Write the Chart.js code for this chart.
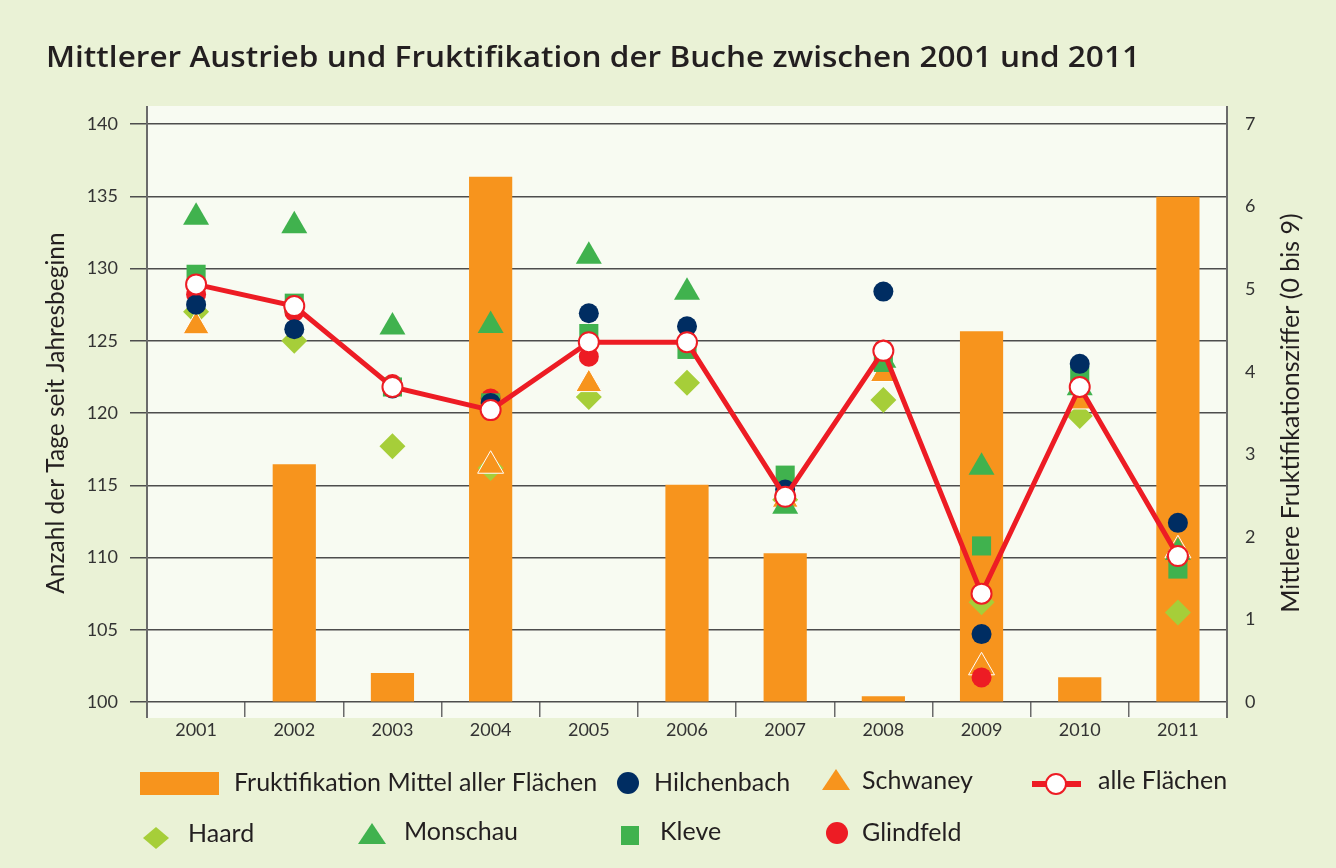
<!DOCTYPE html>
<html>
<head>
<meta charset="utf-8">
<script src="https://cdn.jsdelivr.net/npm/chart.js@4"></script>
<style>
  html, body { margin: 0; background: #eaf2d6; }
  canvas { display: block; }
</style>
</head>
<body>
<canvas id="chart" width="1336" height="868"></canvas>
<script>
const years = ['2001', '2002', '2003', '2004', '2005', '2006', '2007', '2008', '2009', '2010', '2011'];
const leftTicks = [100, 140, 5];
const rightTicks = [0, 7, 1];

// Fruktifikation (right axis, 0 bis 9)
const fruktifikation = [0, 2.88, 0.35, 6.36, 0, 2.63, 1.80, 0.07, 4.49, 0.30, 6.12];
// Austrieb, Tage seit Jahresbeginn (left axis)
const alleFlaechen = [128.9, 127.4, 121.8, 120.2, 124.9, 124.9, 114.2, 124.3, 107.5, 121.8, 110.1];
const hilchenbach = [127.5, 125.8, 121.7, 120.7, 126.9, 126.0, 114.7, 128.4, 104.7, 123.4, 112.4];
const schwaney = [126.0, null, null, 116.35, 122.0, null, 114.0, 122.7, 102.4, 120.8, 110.5];
const haard = [127.0, 125.0, 117.7, 116.2, 121.1, 122.1, 114.0, 120.9, 106.9, 119.8, 106.2];
const monschau = [133.55, 132.95, 125.95, 126.05, 130.85, 128.35, 113.55, 123.65, 116.25, 121.75, 110.35];
const kleve = [129.6, 127.6, 121.8, 120.7, 125.5, 124.4, 115.7, 123.5, 110.8, 122.6, 109.2];
const glindfeld = [128.2, 127.0, 122.0, 121.0, 123.9, 125.0, 114.3, 124.4, 101.7, 121.9, 110.0];

const ORANGE = '#f7941d';
const NAVY = '#002d62';
const LIME = '#a6ce39';
const GREEN = '#40b24e';
const RED = '#ed1c24';
const TEXT = '#231f20';
const FONT = 'Lato, "Open Sans", sans-serif';

function markers(label, data, style, color, radius, order, border) {
  return {
    type: 'line',
    label: label,
    data: data,
    yAxisID: 'y',
    showLine: false,
    pointStyle: style,
    pointRadius: radius,
    pointHoverRadius: radius,
    pointBackgroundColor: color,
    pointBorderColor: border || color,
    pointBorderWidth: border ? 1 : 0,
    order: order,
    clip: false
  };
}

// background, plot panel, axis lines, titles and legend
const decor = {
  id: 'decor',
  beforeDraw(chart) {
    const { ctx, chartArea: a } = chart;
    ctx.save();
    ctx.fillStyle = '#eaf2d6';
    ctx.fillRect(0, 0, chart.width, chart.height);
    ctx.fillStyle = '#f8fbf2';
    ctx.fillRect(a.left, a.top - 18, a.right - a.left, a.bottom - a.top + 34);
    ctx.restore();
  },
  afterDraw(chart) {
    const { ctx, chartArea: a } = chart;
    ctx.save();
    ctx.strokeStyle = '#6b6b6b';
    ctx.lineWidth = 2;
    [a.left, a.right].forEach(x => {
      ctx.beginPath();
      ctx.moveTo(x, a.top - 18);
      ctx.lineTo(x, a.bottom + 16);
      ctx.stroke();
    });

    // chart title, stretched to the width it has in the print layout
    const title = 'Mittlerer Austrieb und Fruktifikation der Buche zwischen 2001 und 2011';
    ctx.save();
    ctx.fillStyle = TEXT;
    ctx.textBaseline = 'alphabetic';
    ctx.font = '600 29px "Open Sans", sans-serif';
    const sx = 1094 / ctx.measureText(title).width;
    ctx.translate(46, 67);
    ctx.scale(sx, 1);
    ctx.fillText(title, 0, 0);
    ctx.restore();

    // right axis title, reading bottom to top
    ctx.save();
    ctx.fillStyle = TEXT;
    ctx.translate(1291, (a.top + a.bottom) / 2);
    ctx.rotate(-Math.PI / 2);
    ctx.textAlign = 'center';
    ctx.textBaseline = 'middle';
    ctx.font = '25px ' + FONT;
    ctx.fillText('Mittlere Fruktifikationsziffer (0 bis 9)', 0, 0);
    ctx.restore();

    // legend
    ctx.font = '25px ' + FONT;
    ctx.textBaseline = 'middle';
    const text = (t, x, y) => { ctx.fillStyle = TEXT; ctx.fillText(t, x, y); };
    const circle = (x, y, c) => {
      ctx.fillStyle = c;
      ctx.beginPath();
      ctx.arc(x, y, 11, 0, Math.PI * 2);
      ctx.fill();
    };
    const tri = (x, top, c) => {
      ctx.fillStyle = c;
      ctx.beginPath();
      ctx.moveTo(x, top);
      ctx.lineTo(x + 14, top + 21);
      ctx.lineTo(x - 14, top + 21);
      ctx.closePath();
      ctx.fill();
    };

    const r1 = 783, r2 = 834;
    ctx.fillStyle = ORANGE;
    ctx.fillRect(140, 772, 79, 23);
    text('Fruktifikation Mittel aller Flächen', 234, r1);
    circle(628, r1, NAVY);
    text('Hilchenbach', 654, r1);
    tri(836, 769, ORANGE);
    text('Schwaney', 862, r1 - 2);
    ctx.strokeStyle = RED;
    ctx.lineWidth = 6;
    ctx.beginPath();
    ctx.moveTo(1032, r1 + 1);
    ctx.lineTo(1081, r1 + 1);
    ctx.stroke();
    ctx.fillStyle = '#fff';
    ctx.lineWidth = 2;
    ctx.beginPath();
    ctx.arc(1056, r1 + 1, 10, 0, Math.PI * 2);
    ctx.fill();
    ctx.stroke();
    text('alle Flächen', 1098, r1 - 2);

    ctx.fillStyle = LIME;
    ctx.beginPath();
    ctx.moveTo(156, 827);
    ctx.lineTo(169, 838);
    ctx.lineTo(156, 849);
    ctx.lineTo(143, 838);
    ctx.closePath();
    ctx.fill();
    text('Haard', 188, r2);
    tri(372, 823, GREEN);
    text('Monschau', 404, r2 - 2);
    ctx.fillStyle = GREEN;
    ctx.fillRect(621, 826, 18, 19);
    text('Kleve', 660, r2 - 2);
    circle(837, r2 - 1, RED);
    text('Glindfeld', 862, r2 - 1);
    ctx.restore();
  }
};

const ctx = document.getElementById('chart').getContext('2d');

new Chart(ctx, {
  type: 'bar',
  data: {
    labels: years,
    datasets: [
      {
        label: 'alle Flächen',
        type: 'line',
        data: alleFlaechen,
        yAxisID: 'y',
        borderColor: RED,
        borderWidth: 5,
        tension: 0,
        pointRadius: 10,
        pointHoverRadius: 10,
        pointBackgroundColor: '#fff',
        pointBorderColor: RED,
        pointBorderWidth: 2,
        order: 0,
        clip: false
      },
      markers('Hilchenbach', hilchenbach, 'circle', NAVY, 10, 1),
      markers('Kleve', kleve, 'rect', GREEN, 13.5, 2),
      markers('Glindfeld', glindfeld, 'circle', RED, 10, 3),
      markers('Monschau', monschau, 'triangle', GREEN, 15, 4),
      markers('Schwaney', schwaney, 'triangle', ORANGE, 15, 5, '#fff'),
      markers('Haard', haard, 'rectRot', LIME, 13, 6),
      {
        label: 'Fruktifikation Mittel aller Flächen',
        data: fruktifikation,
        yAxisID: 'y1',
        backgroundColor: ORANGE,
        categoryPercentage: 1,
        barPercentage: 0.44,
        order: 10
      }
    ]
  },
  options: {
    responsive: false,
    animation: false,
    layout: {
      padding: { top: 124, left: 0, right: 0, bottom: 0 }
    },
    scales: {
      x: {
        offset: true,
        grid: {
          offset: true,
          drawOnChartArea: false,
          tickLength: 15,
          color: '#6b6b6b',
          lineWidth: 1.5
        },
        border: { display: false },
        ticks: {
          color: '#333',
          font: { size: 18, family: FONT },
          padding: 2
        },
        afterFit: s => { s.height = 166; }
      },
      y: {
        position: 'left',
        min: leftTicks[0],
        max: leftTicks[1],
        ticks: {
          stepSize: leftTicks[2],
          color: '#333',
          font: { size: 18, family: FONT },
          padding: 12
        },
        grid: {
          color: '#4d4d4d',
          lineWidth: 1.5,
          tickLength: 17
        },
        border: { display: false },
        title: {
          display: true,
          text: 'Anzahl der Tage seit Jahresbeginn',
          color: TEXT,
          font: { size: 24.5, family: FONT },
          padding: { top: 41, bottom: 0 }
        },
        afterFit: s => { s.width = 147; }
      },
      y1: {
        position: 'right',
        min: rightTicks[0],
        max: rightTicks[1],
        ticks: {
          stepSize: rightTicks[2],
          color: '#333',
          font: { size: 18, family: FONT },
          padding: 18
        },
        grid: {
          drawOnChartArea: false,
          drawTicks: false
        },
        border: { display: false },
        afterFit: s => { s.width = 109; }
      }
    },
    plugins: {
      legend: { display: false },
      tooltip: { enabled: false }
    }
  },
  plugins: [decor]
});
</script>
</body>
</html>
